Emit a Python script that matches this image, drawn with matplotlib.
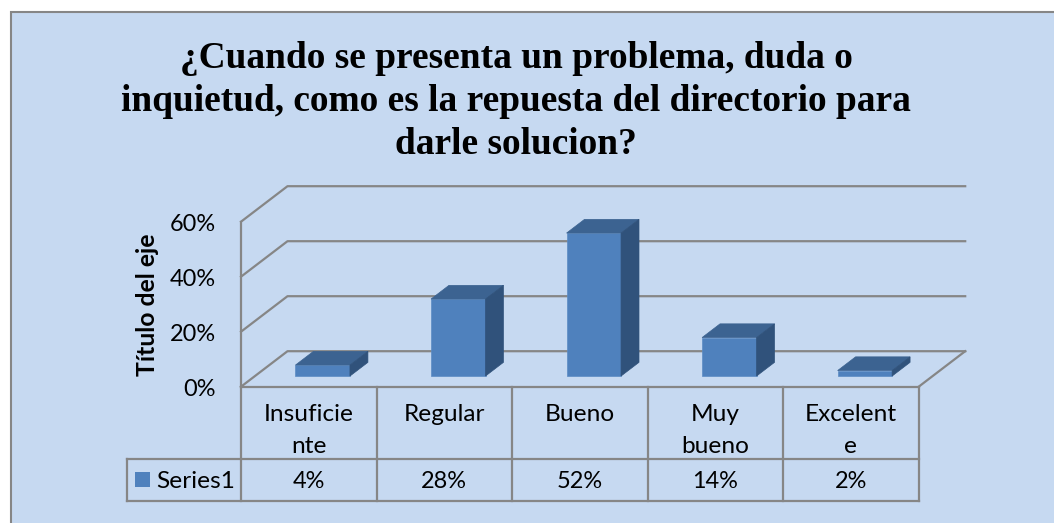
import matplotlib
matplotlib.use("Agg")
import matplotlib.pyplot as plt
from matplotlib.patches import Polygon, Rectangle

categories = [["Insuficie", "nte"], ["Regular"], ["Bueno"], ["Muy", "bueno"], ["Excelent", "e"]]
series_name = "Series1"
values = [4, 28, 52, 14, 2]
value_labels = ["4%", "28%", "52%", "14%", "2%"]
y_ticks = [0, 20, 40, 60]
title_lines = ["¿Cuando se presenta un problema, duda o",
               "inquietud, como es la repuesta del directorio para",
               "darle solucion?"]
y_title = "Título del eje"

W, H = 1054, 523
BG, GRID, TXT = "#C6D9F1", "#868686", "#000000"
FRONT, TOP, SIDE = "#4F81BD", "#3C6391", "#30527B"
FS_WORD, FS_NUM = 17.6, 16.9

fig = plt.figure(figsize=(W / 100, H / 100), dpi=100, facecolor="white")
fig.add_artist(Rectangle((10.5 / W, -0.1), 1.2, 1.1 - 12.5 / H, transform=fig.transFigure,
                         facecolor=BG, edgecolor=GRID, linewidth=1.5, zorder=-5))

# Axes: x in category units, y in percent, mapped to the front plane of the 3-D box
L, R, Y0, Y60 = 241.0, 918.7, 386.7, 221.7
ax = fig.add_axes([L / W, 1 - Y0 / H, (R - L) / W, (Y0 - Y60) / H])
ax.set_xlim(0, 5)
ax.set_ylim(0, 60)
ax.axis("off")
ux = (R - L) / 5
uy = (Y0 - Y60) / 60
DX, DY = 46.5 / ux, 35.5 / uy


def pr(x, y, d=0.0):
    return (x + d * DX, y + d * DY)


def line(xs, ys, lw=1.6):
    ax.plot(xs, ys, color=GRID, lw=lw, clip_on=False, solid_capstyle="projecting", zorder=1)


# walls and gridlines
for v in y_ticks:
    p0, p1, p2 = pr(0, v), pr(0, v, 1), pr(5, v, 1)
    line([p0[0], p1[0], p2[0]], [p0[1], p1[1], p2[1]])
    ax.text(-25 / ux, v - 9.5 / uy, f"{v}%", ha="right", va="baseline", fontsize=FS_NUM,
            family="Lato", color=TXT, clip_on=False)
line([0, 0], [0, 60])
line([0, 5], [0, 0])
p = pr(5, 0, 1)
line([5, p[0]], [0, p[1]])

# bars
D1, D2 = 0.30, 0.686
BW = 0.402
for i, v in enumerate(values):
    x0, x1 = i + 0.5 - BW / 2, i + 0.5 + BW / 2
    ax.add_patch(Polygon([pr(x0, 0, D1), pr(x1, 0, D1), pr(x1, v, D1), pr(x0, v, D1)],
                         facecolor=FRONT, edgecolor="#5B8BC4", lw=0.5, clip_on=False, zorder=3))
    ax.add_patch(Polygon([pr(x0, v, D1), pr(x1, v, D1), pr(x1, v, D2), pr(x0, v, D2)],
                         facecolor=TOP, edgecolor=TOP, lw=0.5, clip_on=False, zorder=3))
    ax.add_patch(Polygon([pr(x1, 0, D1), pr(x1, 0, D2), pr(x1, v, D2), pr(x1, v, D1)],
                         facecolor=SIDE, edgecolor=SIDE, lw=0.5, clip_on=False, zorder=3))

# data table
ROW1 = -(459.3 - Y0) / uy
ROW2 = -(501.0 - Y0) / uy
KEYL = -(L - 126.7) / ux
for i in range(6):
    line([i, i], [0, ROW2])
line([KEYL, 5], [ROW1, ROW1])
line([KEYL, 5], [ROW2, ROW2])
line([KEYL, KEYL], [ROW1, ROW2])

B1, B2, B3 = [-(b - Y0) / uy for b in (420.7, 453.0, 488.3)]
for i, cat in enumerate(categories):
    for text, base in zip(cat, (B1, B2)):
        ax.text(i + 0.5, base, text, ha="center", va="baseline", fontsize=FS_WORD,
                family="Lato", color=TXT, clip_on=False)
    ax.text(i + 0.5, B3, value_labels[i], ha="center", va="baseline", fontsize=FS_NUM,
            family="Lato", color=TXT, clip_on=False)
ax.add_patch(Rectangle((-(L - 135) / ux, -(487.3 - Y0) / uy), 15 / ux, 15.3 / uy,
                       facecolor=FRONT, edgecolor="none", clip_on=False, zorder=3))
ax.text(-(L - 156.5) / ux, B3, series_name, ha="left", va="baseline", fontsize=FS_WORD,
        family="Lato", color=TXT, clip_on=False)

# axis title
ax.text(-(L - 148) / ux, -(305 - Y0) / uy, y_title, rotation=90, ha="center", va="center",
        fontsize=17.8, fontweight="bold", family="Lato", color=TXT, clip_on=False)

# chart title
for text, base in zip(title_lines, (68.3, 111, 154)):
    fig.text(516 / W, 1 - base / H, text, ha="center", va="baseline", fontsize=26.9,
             fontweight="bold", family="Liberation Serif", color=TXT)

fig.savefig("out.png", dpi=100, facecolor="white")
